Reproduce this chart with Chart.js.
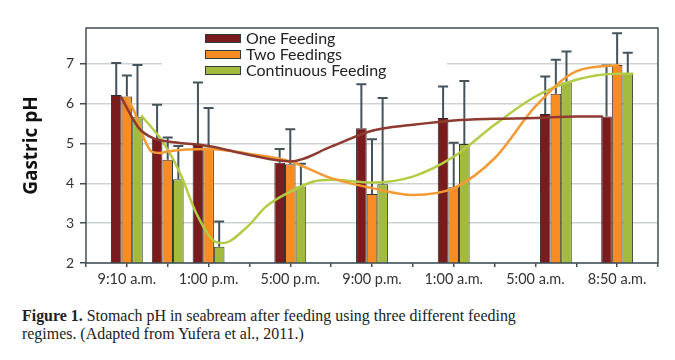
<!DOCTYPE html>
<html>
<head>
<meta charset="utf-8">
<script src="https://cdn.jsdelivr.net/npm/chart.js@4"></script>
<style>
  body { margin: 0; background: #fff; }
  #wrap { position: relative; width: 675px; height: 360px; }
  #caption {
    position: absolute; left: 22px; top: 306px; width: 700px;
    font-family: "Liberation Serif", serif; font-size: 17.5px; line-height: 18px; color: #222;
    transform: scaleX(0.91); transform-origin: 0 0;
  }
</style>
</head>
<body>
<div id="wrap">
  <canvas id="chart" width="675" height="300"></canvas>
  <div id="caption"><b>Figure 1.</b> Stomach pH in seabream after feeding using three different feeding<br>regimes. (Adapted from Yufera et al., 2011.)</div>
</div>
<script>
// sampling times, hours after midnight of day 1 (33 = 8:50 a.m. next day)
const hours = [9, 11, 13, 17, 21, 25, 30, 33];
const labelHours = [9, 13, 17, 21, 25, 29, 33];
const labelText = ["9:10 a.m.", "1:00 p.m.", "5:00 p.m.", "9:00 p.m.", "1:00 a.m.", "5:00 a.m.", "8:50 a.m."];

const oneFeeding = [6.22, 5.13, 4.96, 4.52, 5.38, 5.64, 5.74, 5.68];
const oneFeedingTop = [7.02, 5.97, 6.53, 4.86, 6.49, 6.43, 6.68, 6.96];
const twoFeedings = [6.18, 4.59, 4.90, 4.48, 3.73, 3.90, 6.25, 6.97];
const twoFeedingsTop = [6.71, 5.15, 5.89, 5.36, 5.11, 5.02, 7.10, 7.77];
const continuous = [5.66, 4.10, 2.41, 3.92, 3.98, 4.99, 6.53, 6.75];
const continuousTop = [6.97, 4.94, 3.04, 4.49, 6.14, 6.57, 7.31, 7.28];

// trend curves: [hour, pH]
const oneTrend = [[8.7, 6.18], [9.6, 5.38], [10.3, 5.13], [11, 5.05], [13, 4.94], [15, 4.71], [17, 4.55],
  [19, 4.92], [21, 5.32], [23, 5.47], [25, 5.58], [27, 5.62], [29, 5.64], [31, 5.68], [32.3, 5.68]];
const twoTrend = [[9, 6.18], [9.4, 5.76], [9.8, 5.17], [10.2, 4.8], [10.6, 4.76], [11, 4.8], [13, 4.86],
  [15, 4.74], [17, 4.55], [19, 4.13], [21, 3.88], [23, 3.71], [25, 3.88], [27, 4.63], [29, 5.93], [31, 6.81], [33.1, 6.97]];
const contTrend = [[9.7, 5.71], [10.8, 5.01], [11.6, 4.26], [12.4, 3.25], [13.2, 2.58], [13.7, 2.5], [14.9, 2.91],
  [15.8, 3.41], [17, 3.79], [18.1, 4.04], [19, 4.09], [21, 4.02], [23, 4.17], [25, 4.67], [27, 5.47], [29, 6.18],
  [31, 6.6], [33, 6.75], [33.8, 6.75]];

const pts = (xs, ys) => xs.map((x, i) => ({ x: x, y: ys[i] }));
const trendPts = (arr) => arr.map(p => ({ x: p[0], y: p[1] }));

const errorBars = {
  id: "errorBars",
  afterDatasetDraw(chart, args) {
    const ds = chart.data.datasets[args.index];
    if (!ds.errTop) return;
    const ctx = chart.ctx;
    const y = chart.scales.y;
    ctx.save();
    ctx.strokeStyle = "#44545a";
    ctx.lineWidth = 2;
    args.meta.data.forEach((bar, i) => {
      const top = y.getPixelForValue(ds.errTop[i]);
      ctx.beginPath();
      ctx.moveTo(bar.x, bar.y);
      ctx.lineTo(bar.x, top);
      ctx.moveTo(bar.x - 5, top);
      ctx.lineTo(bar.x + 5, top);
      ctx.stroke();
    });
    ctx.restore();
  }
};

const frameAndLegend = {
  id: "frameAndLegend",
  afterDraw(chart) {
    const ctx = chart.ctx;
    const a = chart.chartArea;
    ctx.save();
    // legend box
    ctx.fillStyle = "#fff";
    ctx.fillRect(162, a.top + 1, 285, 51);
    [0, 1, 2].forEach(i => {
      const ds = chart.data.datasets[i];
      const cy = 38.5 + i * 16;
      ctx.fillStyle = ds.backgroundColor;
      ctx.fillRect(205, cy - 4.5, 36, 9);
      ctx.strokeStyle = "#2f3b3b";
      ctx.lineWidth = 1;
      ctx.strokeRect(205.5, cy - 4, 35, 8);
      ctx.fillStyle = "#222";
      ctx.font = "16px Lato";
      ctx.textBaseline = "middle";
      ctx.fillText(ds.label, 246, cy);
    });
    // frame round the plot area
    ctx.strokeStyle = "#3f4f55";
    ctx.lineWidth = 1.5;
    ctx.strokeRect(a.left, a.top, a.right - a.left, a.bottom - a.top);
    ctx.restore();
  }
};

new Chart(document.getElementById("chart"), {
  type: "bar",
  data: {
    datasets: [
      { label: "One Feeding", data: pts(hours, oneFeeding), errTop: oneFeedingTop,
        backgroundColor: "#7a1b1d", borderColor: "#2e2a2a", borderWidth: 1, order: 2 },
      { label: "Two Feedings", data: pts(hours, twoFeedings), errTop: twoFeedingsTop,
        backgroundColor: "#f78d22", borderColor: "#3a3530", borderWidth: 1, order: 2 },
      { label: "Continuous Feeding", data: pts(hours, continuous), errTop: continuousTop,
        backgroundColor: "#a2bb3c", borderColor: "#343c30", borderWidth: 1, order: 2 },
      { type: "line", label: "t1", data: trendPts(oneTrend), borderColor: "#8e3a30", borderWidth: 2.5,
        pointRadius: 0, cubicInterpolationMode: "monotone", order: 1 },
      { type: "line", label: "t2", data: trendPts(twoTrend), borderColor: "#f39a35", borderWidth: 2.5,
        pointRadius: 0, cubicInterpolationMode: "monotone", order: 1 },
      { type: "line", label: "t3", data: trendPts(contTrend), borderColor: "#b3cb45", borderWidth: 2.5,
        pointRadius: 0, cubicInterpolationMode: "monotone", order: 1 }
    ]
  },
  options: {
    responsive: false,
    animation: false,
    devicePixelRatio: 1,
    categoryPercentage: 0.78,
    barPercentage: 1,
    layout: { padding: { left: 0, top: 28, right: 17, bottom: 0 } },
    plugins: { legend: { display: false }, tooltip: { enabled: false } },
    scales: {
      x: {
        type: "linear",
        min: 7,
        max: 35,
        offset: false,
        afterFit: s => { s.height = 37; },
        grid: { offset: false, drawOnChartArea: false, drawTicks: true, tickLength: 4, color: "#3f4f55", lineWidth: 1.5 },
        border: { display: false },
        ticks: {
          stepSize: 2,
          autoSkip: false,
          maxRotation: 0,
          padding: 4,
          color: "#333",
          font: { family: "Lato", size: 14.5 },
          callback: v => {
            const k = labelHours.indexOf(v);
            return k >= 0 ? labelText[k] : "";
          }
        }
      },
      y: {
        min: 2,
        max: 7.9,
        afterFit: s => { s.width = 86; },
        grid: { color: "#cdd3d5", lineWidth: 1.5, tickColor: "#3f4f55", tickLength: 6 },
        border: { display: false },
        ticks: { stepSize: 1, includeBounds: false, padding: 6, color: "#333", font: { family: "Lato", size: 14 } },
        title: { display: true, text: "Gastric pH", color: "#111", padding: { top: 20 },
          font: { family: "Open Sans", size: 19, weight: "bold" } }
      }
    }
  },
  plugins: [errorBars, frameAndLegend]
});
</script>
</body>
</html>
